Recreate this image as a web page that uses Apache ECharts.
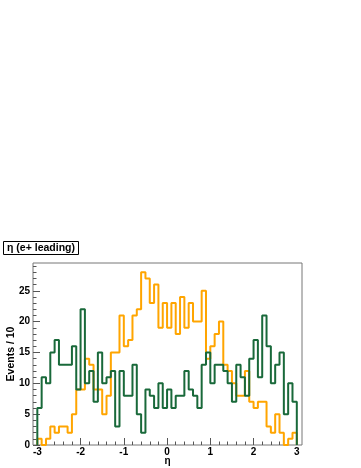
<!DOCTYPE html>
<html>
<head>
<meta charset="utf-8">
<script src="https://cdn.jsdelivr.net/npm/echarts@6/dist/echarts.min.js"></script>
<style>
html,body{margin:0;padding:0;background:#fff;}
#main{width:361px;height:468px;}
</style>
</head>
<body>
<div id="main"></div>
<script>
// histogram: 60 bins of 0.1 from -3 to 3
var binLow = -3;
var binWidth = 0.1;
var orangeCounts = [1,0,1,3,2,3,3,2,5,9, 9,14,13,9,9,5,8,15,15,21,
	16,17,21,22,28,27,23,26,19,23, 19,23,18,24,19,23,20,20,25,14,
	16,18,20,13,12,10,8,8,12,7, 6,7,7,3,2,5,2,0,1,2];
var greenCounts = [6,11,10,15,17,13,13,13,16,9, 22,10,12,7,15,10,11,12,3,12,
	8,8,13,5,2,9,8,6,10,6, 9,6,8,8,12,9,8,6,13,15,
	10,13,13,12,10,7,13,11,8,14, 17,11,21,16,10,13,15,5,10,7];
var xMajor = [-3,-2,-1,0,1,2,3];
var xMinor = [-2.8,-2.6,-2.4,-2.2,-1.8,-1.6,-1.4,-1.2,-0.8,-0.6,-0.4,-0.2,
	0.2,0.4,0.6,0.8,1.2,1.4,1.6,1.8,2.2,2.4,2.6,2.8];
var yMajor = [0,5,10,15,20,25];
var yMinor = [1,2,3,4,6,7,8,9,11,12,13,14,16,17,18,19,21,22,23,24,26,27,28,29];

var titleText = 'η (e+ leading)';
var xTitle = 'η';
var yTitle = 'Events / 10';

// step points: (lowEdge,0) then (highEdge_i, count_i), then back to 0
function stepData(counts){
	var data = [[binLow, 0]];
	for (var i=0;i<counts.length;i++){
		var hi = Math.round((binLow + binWidth*(i+1))*1000)/1000;
		data.push([hi, counts[i]]);
	}
	data.push([Math.round((binLow + binWidth*counts.length)*1000)/1000, 0]);
	return data;
}

var font = 'Liberation Sans, Arial, sans-serif';
var tickColor = '#555';
var chart = echarts.init(document.getElementById('main'), null, {renderer:'canvas'});
var option = {
	backgroundColor: '#fff',
	animation: false,
	title: {
		text: titleText,
		left: 3, top: 241,
		padding: [2,4,1,4],
		borderColor: '#000',
		borderWidth: 1,
		textStyle: {fontSize: 10.5, fontWeight: 'bold', fontFamily: font, color: '#000'}
	},
	grid: {
		left: 33, right: 59, top: 263, bottom: 23,
		outerBoundsMode: 'none', containLabel: false,
		show: true, borderColor: '#777', borderWidth: 1, backgroundColor: '#fff'
	},
	xAxis: [{
		type: 'value', min: -3.1, max: 3.12,
		name: xTitle, nameLocation: 'middle', nameGap: 11, nameMoveOverlap: false,
		nameTextStyle: {fontSize: 10, fontWeight: 'bold', fontFamily: font, color: '#000'},
		axisLine: {show: false, onZero: false},
		splitLine: {show: false},
		axisTick: {show: true, inside: true, length: 7, customValues: xMajor, lineStyle: {color: tickColor}},
		axisLabel: {customValues: xMajor, margin: 2, fontSize: 10, fontWeight: 'bold', fontFamily: font, color: '#000'}
	},{
		type: 'value', min: -3.1, max: 3.12, position: 'bottom',
		axisLine: {show: false, onZero: false},
		splitLine: {show: false},
		axisTick: {show: true, inside: true, length: 3.5, customValues: xMinor, lineStyle: {color: tickColor}},
		axisLabel: {show: false}
	}],
	yAxis: [{
		type: 'value', min: 0, max: 29.5,
		name: yTitle, nameLocation: 'middle', nameGap: 16, nameMoveOverlap: false,
		nameTextStyle: {fontSize: 10.5, fontWeight: 'bold', fontFamily: font, color: '#000'},
		axisLine: {show: false, onZero: false},
		splitLine: {show: false},
		axisTick: {show: true, inside: true, length: 7, customValues: yMajor, lineStyle: {color: tickColor}},
		axisLabel: {customValues: yMajor, margin: 3, fontSize: 10, fontWeight: 'bold', fontFamily: font, color: '#000'}
	},{
		type: 'value', min: 0, max: 29.5, position: 'left',
		axisLine: {show: false, onZero: false},
		splitLine: {show: false},
		axisTick: {show: true, inside: true, length: 3.5, customValues: yMinor, lineStyle: {color: tickColor}},
		axisLabel: {show: false}
	}],
	series: [{
		type: 'line', step: 'start', symbol: 'none',
		xAxisIndex: 0, yAxisIndex: 0,
		data: stepData(orangeCounts),
		lineStyle: {color: '#ffa500', width: 2}
	},{
		type: 'line', step: 'start', symbol: 'none',
		xAxisIndex: 0, yAxisIndex: 0,
		data: stepData(greenCounts),
		lineStyle: {color: '#19693a', width: 2}
	}]
};
chart.setOption(option);
</script>
</body>
</html>
